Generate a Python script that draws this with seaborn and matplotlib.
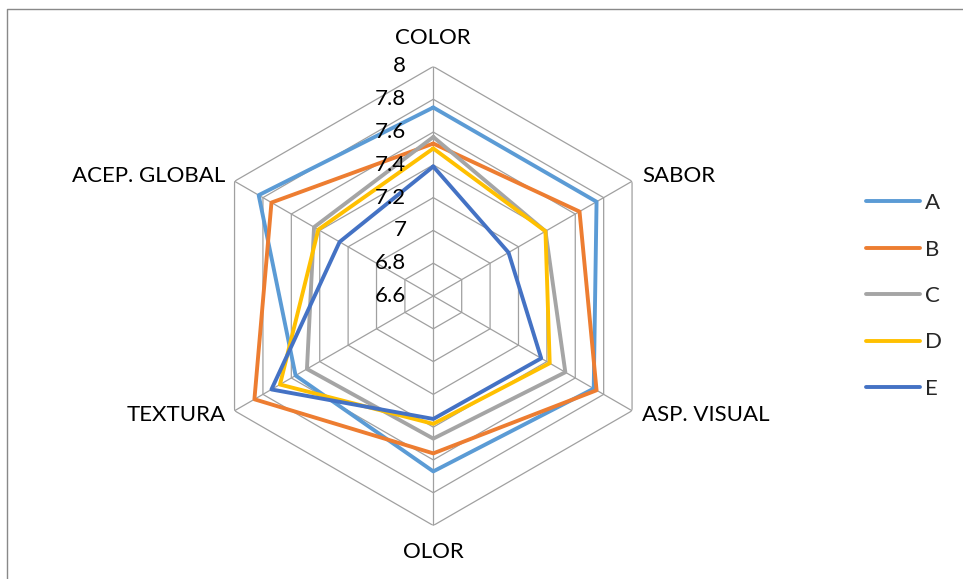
import numpy as np
import pandas as pd
import seaborn as sns
import matplotlib
matplotlib.use("Agg")
import matplotlib.pyplot as plt
from matplotlib.lines import Line2D

# Sensory attributes (radar axes, clockwise from top)
attributes = ["COLOR", "SABOR", "ASP. VISUAL", "OLOR", "TEXTURA", "ACEP. GLOBAL"]

# Mean scores for each sample
serie_a = [7.75, 7.75, 7.73, 7.67, 7.57, 7.83]
serie_b = [7.53, 7.63, 7.75, 7.56, 7.86, 7.74]
serie_c = [7.57, 7.39, 7.53, 7.47, 7.49, 7.44]
serie_d = [7.50, 7.39, 7.42, 7.38, 7.68, 7.41]
serie_e = [7.39, 7.13, 7.36, 7.35, 7.74, 7.26]

series_names = ["A", "B", "C", "D", "E"]
series_values = [serie_a, serie_b, serie_c, serie_d, serie_e]

# Radial scale
r_ticks = [6.6, 6.8, 7.0, 7.2, 7.4, 7.6, 7.8, 8.0]
r_tick_labels = ["6.6", "6.8", "7", "7.2", "7.4", "7.6", "7.8", "8"]

colors = ["#5B9BD5", "#ED7D31", "#A5A5A5", "#FFC000", "#4472C4"]

sns.set_theme(style="white")
plt.rcParams["font.family"] = ["Lato", "DejaVu Sans"]
FS = 16

n = len(attributes)
angles = np.linspace(0, 2 * np.pi, n, endpoint=False)
closed_angles = np.append(angles, 2 * np.pi)

rows = []
for name, vals in zip(series_names, series_values):
    closed_vals = list(vals) + [vals[0]]
    for k, (a, v) in enumerate(zip(closed_angles, closed_vals)):
        rows.append({"serie": name, "orden": k, "angulo": a, "valor": v})
df = pd.DataFrame(rows)

W, H = 963, 579
fig = plt.figure(figsize=(W / 100, H / 100), dpi=100)

cx, cy, rad = 433.3, 296.0, 229.5
ax = fig.add_axes([(cx - rad) / W, 1 - (cy + rad) / H, 2 * rad / W, 2 * rad / H],
                  projection="polar")
ax.set_theta_offset(np.pi / 2)
ax.set_theta_direction(-1)
ax.set_ylim(r_ticks[0], r_ticks[-1])
ax.grid(False)
ax.spines["polar"].set_visible(False)
ax.set_xticks([])
ax.set_yticks([])
ax.set_facecolor("none")

grid_color = "#A0A0A0"
# Hexagonal gridlines
for rv in r_ticks[1:]:
    ax.plot(closed_angles, [rv] * len(closed_angles), color=grid_color,
            lw=0.9, zorder=1)
# Spokes
for a in angles:
    ax.plot([a, a], [r_ticks[0], r_ticks[-1]], color=grid_color, lw=0.9, zorder=1)

sns.lineplot(data=df, x="angulo", y="valor", hue="serie", units="serie",
             palette=colors, hue_order=series_names, sort=False, estimator=None,
             lw=2.8, legend=False, ax=ax, zorder=3)
ax.set_xlabel("")
ax.set_ylabel("")

# Radial tick labels along the top axis
for rv, lab in zip(r_ticks, r_tick_labels):
    ax.annotate(lab, xy=(0, rv), xytext=(-27, 0), textcoords="offset pixels",
                ha="right", va="center", fontsize=FS, color="#000000", zorder=4)

# Attribute labels
label_offsets = [(0, 29, "center", "center"),
                 (10, 5, "left", "center"),
                 (10, -4.5, "left", "center"),
                 (0, -27, "center", "center"),
                 (-9, -4.5, "right", "center"),
                 (-9, 5, "right", "center")]
for a, lab, (dx, dy, ha, va) in zip(angles, attributes, label_offsets):
    ax.annotate(lab, xy=(a, r_ticks[-1]), xytext=(dx, dy), textcoords="offset pixels",
                ha=ha, va=va, fontsize=FS, color="#000000")

# Legend
handles = [Line2D([0], [0], color=c, lw=2.8, solid_capstyle="round") for c in colors]
fig.legend(handles, series_names, loc="center left",
           bbox_to_anchor=(866 / W, 1 - 296 / H), frameon=False, fontsize=FS,
           borderpad=0, borderaxespad=0,
           handlelength=2.43, handletextpad=0.22, labelspacing=1.19)

# Chart area border
border = "#898989"
fig.add_artist(Line2D([6.5 / W, 6.5 / W, 1.0], [0.0, 1 - 8.5 / H, 1 - 8.5 / H],
                      transform=fig.transFigure, color=border, lw=1.0))

fig.savefig("out.png", dpi=100, facecolor="white")
